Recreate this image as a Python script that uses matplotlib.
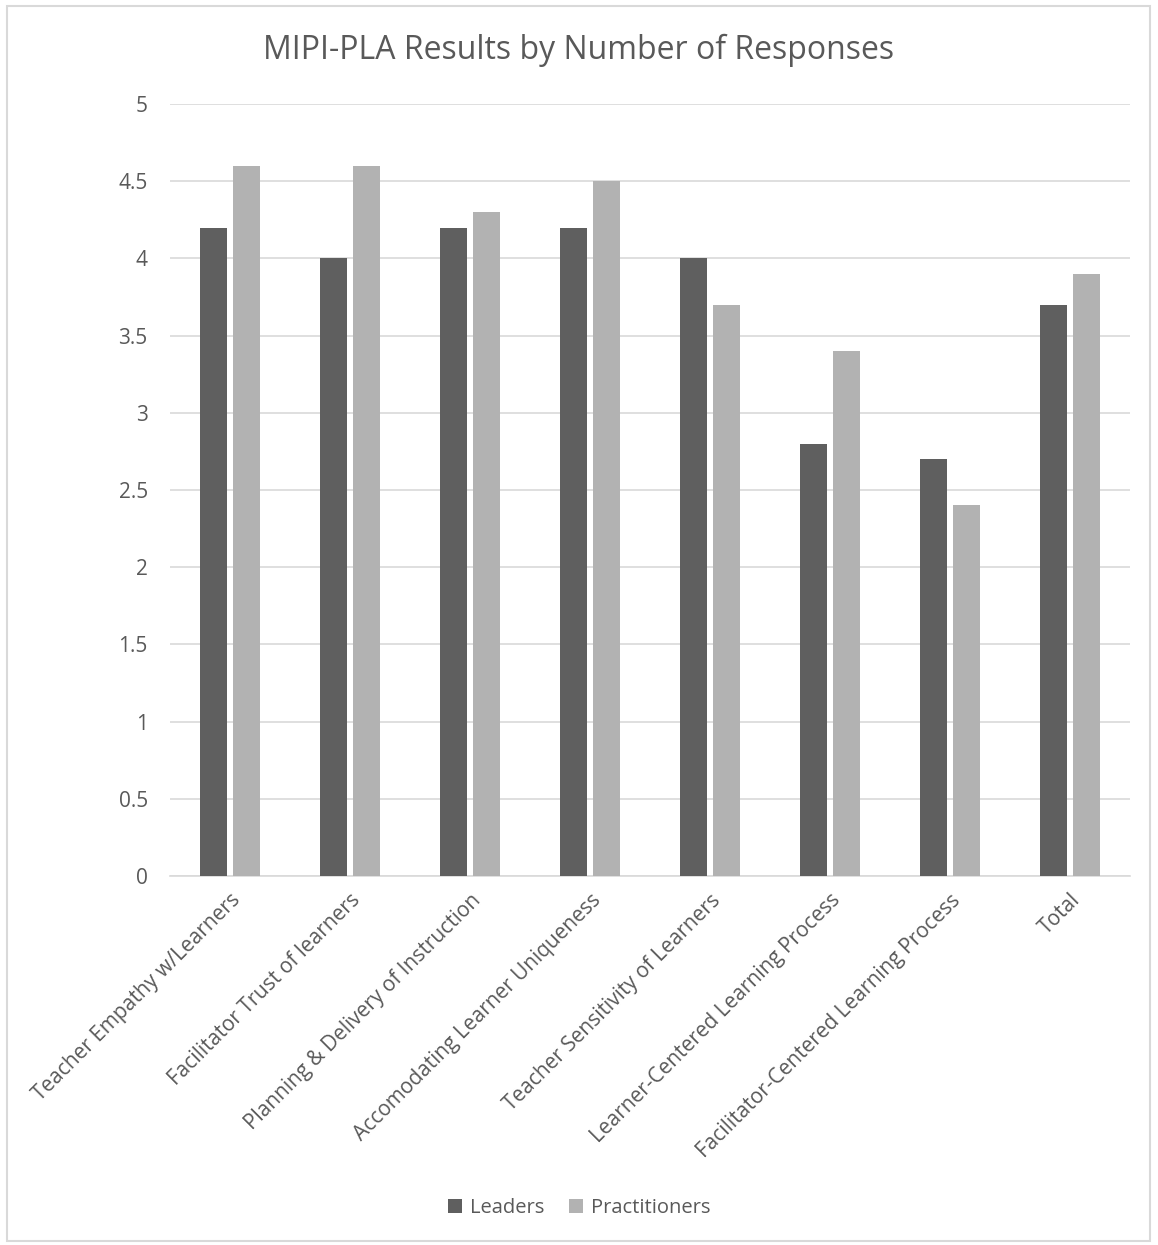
import matplotlib.pyplot as plt
import numpy as np
from matplotlib.patches import Rectangle

categories = [
    "Teacher Empathy w/Learners",
    "Facilitator Trust of learners",
    "Planning & Delivery of Instruction",
    "Accomodating Learner Uniqueness",
    "Teacher Sensitivity of Learners",
    "Learner-Centered Learning Process",
    "Facilitator-Centered Learning Process",
    "Total",
]
leaders = [4.2, 4.0, 4.2, 4.2, 4.0, 2.8, 2.7, 3.7]
practitioners = [4.6, 4.6, 4.3, 4.5, 3.7, 3.4, 2.4, 3.9]

plt.rcParams["font.family"] = ["Open Sans", "DejaVu Sans"]
text_color = "#595959"

fig = plt.figure(figsize=(11.58, 12.45), dpi=100)
ax = fig.add_axes([170 / 1158, 1 - 876 / 1245, 960 / 1158, 772 / 1245])

x = np.arange(len(categories))
width = 0.225
gap = 0.058
ax.bar(x - (width + gap) / 2, leaders, width, color="#5f5f5f", label="Leaders", zorder=3)
ax.bar(x + (width + gap) / 2, practitioners, width, color="#b2b2b2", label="Practitioners", zorder=3)

ax.set_xlim(-0.5, len(categories) - 0.5)
ax.set_ylim(0, 5)
ax.set_yticks(np.arange(0, 5.01, 0.5))
ax.set_yticklabels(["0", "0.5", "1", "1.5", "2", "2.5", "3", "3.5", "4", "4.5", "5"])
ax.yaxis.grid(True, color="#d9d9d9", linewidth=1.2, zorder=0)
for s in ["top", "right", "left"]:
    ax.spines[s].set_visible(False)
ax.spines["bottom"].set_color("#d9d9d9")
ax.spines["bottom"].set_linewidth(1.2)
ax.tick_params(axis="both", length=0, colors=text_color, labelsize=15)
ax.tick_params(axis="y", pad=16)
ax.set_xticks(x)
ax.set_xticklabels(categories, rotation=45, ha="right", rotation_mode="anchor")
ax.tick_params(axis="x", pad=10)

fig.text(0.5, 1 - 50 / 1245, "MIPI-PLA Results by Number of Responses",
         ha="center", va="center", fontsize=23, color=text_color)

fig.legend(loc="center", bbox_to_anchor=(0.5, 1 - 1208 / 1245), ncol=2,
           frameon=False, fontsize=14.5, labelcolor=text_color,
           handlelength=0.7, handleheight=0.7, handletextpad=0.4, columnspacing=1.2)

fig.patches.append(Rectangle((7 / 1158, 4 / 1245), 1143 / 1158, 1235 / 1245,
                             transform=fig.transFigure, fill=False,
                             edgecolor="#d9d9d9", linewidth=1.5))

fig.savefig("out.png", dpi=100, facecolor="white")
